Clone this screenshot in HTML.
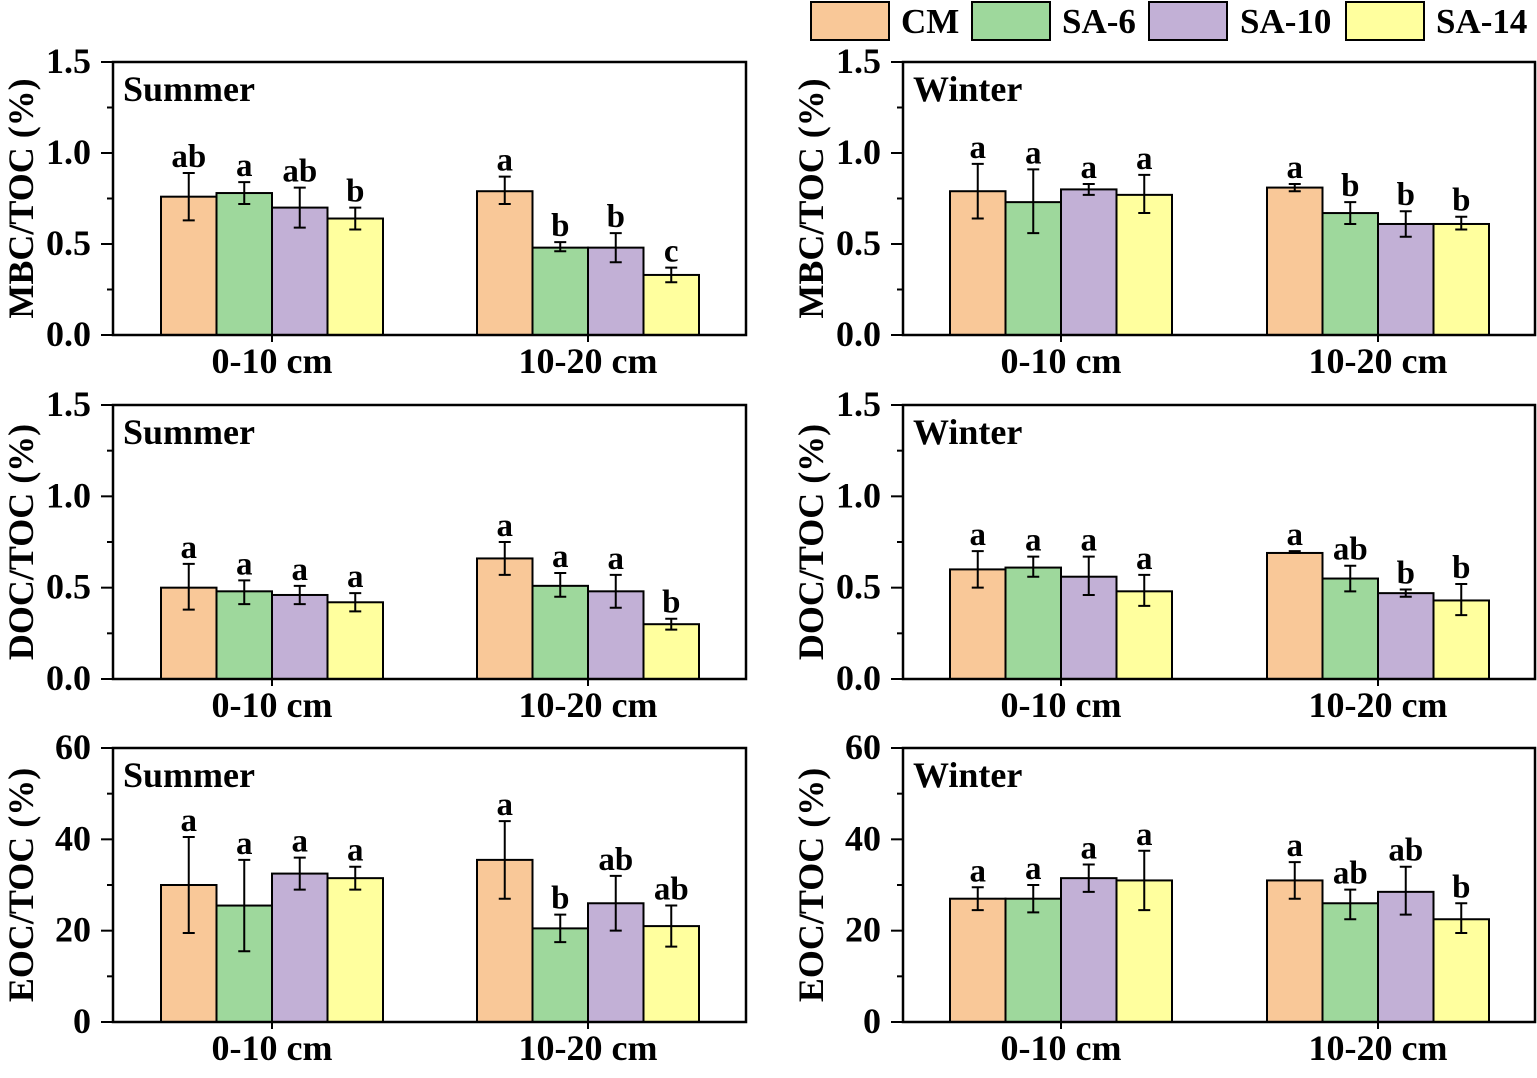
<!DOCTYPE html>
<html><head><meta charset="utf-8"><style>
html,body{margin:0;padding:0;background:#fff;}
svg text{font-family:"Liberation Serif",serif;font-weight:bold;fill:#000;}
</style></head><body>
<svg id="s" width="1537" height="1073" xmlns="http://www.w3.org/2000/svg"></svg>
<script>
const C=["#F9C898","#9ED89C","#C2B0D6","#FFFF9E"];
const s=document.getElementById('s');let h='';
const lg=[[811,901,"CM"],[972,1062,"SA-6"],[1149,1240,"SA-10"],[1346,1436,"SA-14"]];
lg.forEach((l,i)=>{h+=`<rect x="${l[0]}" y="2" width="78" height="38" fill="${C[i]}" stroke="#000" stroke-width="2"/><text x="${l[1]}" y="33" font-size="35">${l[2]}</text>`;});
const rows=[{y0:62,y1:335,max:1.5,maj:0.5,min:0.25,lab:"MBC/TOC (%)",f:v=>v.toFixed(1)},
{y0:405,y1:679,max:1.5,maj:0.5,min:0.25,lab:"DOC/TOC (%)",f:v=>v.toFixed(1)},
{y0:748,y1:1022,max:60,maj:20,min:10,lab:"EOC/TOC (%)",f:v=>v.toFixed(0)}];
const D=[
[[[.76,.63,.89,"ab"],[.78,.72,.84,"a"],[.70,.59,.81,"ab"],[.64,.58,.70,"b"]],[[.79,.72,.87,"a"],[.48,.46,.51,"b"],[.48,.40,.56,"b"],[.33,.29,.37,"c"]],
 [[.79,.64,.94,"a"],[.73,.56,.91,"a"],[.80,.77,.83,"a"],[.77,.67,.88,"a"]],[[.81,.79,.83,"a"],[.67,.61,.73,"b"],[.61,.54,.68,"b"],[.61,.58,.65,"b"]]],
[[[.50,.38,.63,"a"],[.48,.41,.54,"a"],[.46,.41,.51,"a"],[.42,.37,.47,"a"]],[[.66,.57,.75,"a"],[.51,.45,.58,"a"],[.48,.39,.57,"a"],[.30,.27,.33,"b"]],
 [[.60,.50,.70,"a"],[.61,.56,.67,"a"],[.56,.46,.67,"a"],[.48,.40,.57,"a"]],[[.69,.69,.70,"a"],[.55,.48,.62,"ab"],[.47,.45,.49,"b"],[.43,.35,.52,"b"]]],
[[[30,19.5,40.5,"a"],[25.5,15.5,35.5,"a"],[32.5,29,36,"a"],[31.5,29,34,"a"]],[[35.5,27,44,"a"],[20.5,17.5,23.5,"b"],[26,20,32,"ab"],[21,16.5,25.5,"ab"]],
 [[27,24.5,29.5,"a"],[27,24,30,"a"],[31.5,28.5,34.5,"a"],[31,24.5,37.5,"a"]],[[31,27,35,"a"],[26,22.5,29,"ab"],[28.5,23.5,34,"ab"],[22.5,19.5,26,"b"]]]];
const cols=[{x0:113,x1:746,g:[161,477],t:"Summer"},{x0:903,x1:1535,g:[950,1267],t:"Winter"}];
rows.forEach((r,ri)=>{cols.forEach((c,ci)=>{
 const Y=v=>r.y1-(r.y1-r.y0)*v/r.max;
 c.g.forEach((gx,gi)=>{
  const dat=D[ri][ci*2+gi];
  dat.forEach((d,bi)=>{const x=gx+bi*55.5,w=55.5;
   h+=`<rect x="${x}" y="${Y(d[0])}" width="${w}" height="${r.y1-Y(d[0])}" fill="${C[bi]}" stroke="#000" stroke-width="2"/>`;
   const cx=x+w/2;
   h+=`<path d="M${cx} ${Y(d[1])}V${Y(d[2])}M${cx-6} ${Y(d[1])}H${cx+6}M${cx-6} ${Y(d[2])}H${cx+6}" stroke="#000" stroke-width="2" fill="none"/>`;
   h+=`<text x="${cx}" y="${Y(d[2])-6}" font-size="33" text-anchor="middle">${d[3]}</text>`;
  });
  const gc=gx+111;
  h+=`<line x1="${gc}" y1="${r.y1}" x2="${gc}" y2="${r.y1+7}" stroke="#000" stroke-width="2"/>`;
  h+=`<text x="${gc}" y="${r.y1+38}" font-size="36" text-anchor="middle">${gi?"10-20 cm":"0-10 cm"}</text>`;
 });
 h+=`<rect x="${c.x0}" y="${r.y0}" width="${c.x1-c.x0}" height="${r.y1-r.y0}" fill="none" stroke="#000" stroke-width="2.5"/>`;
 for(let v=0;v<=r.max+1e-9;v+=r.min){const y=Y(v);const mj=Math.abs(v/r.maj-Math.round(v/r.maj))<1e-6;
  h+=`<line x1="${c.x0-(mj?12:6)}" y1="${y}" x2="${c.x0}" y2="${y}" stroke="#000" stroke-width="2"/>`;
  if(mj)h+=`<text x="${c.x0-22}" y="${y+11}" font-size="36" text-anchor="end">${r.f(v)}</text>`;}
 h+=`<text x="${c.x0+10}" y="${r.y0+39}" font-size="36">${c.t}</text>`;
 const my=(r.y0+r.y1)/2,lx=c.x0-80;
 h+=`<text transform="translate(${lx},${my}) rotate(-90)" font-size="36" text-anchor="middle">${r.lab}</text>`;
});});
s.innerHTML=h;
</script>
</body></html>
